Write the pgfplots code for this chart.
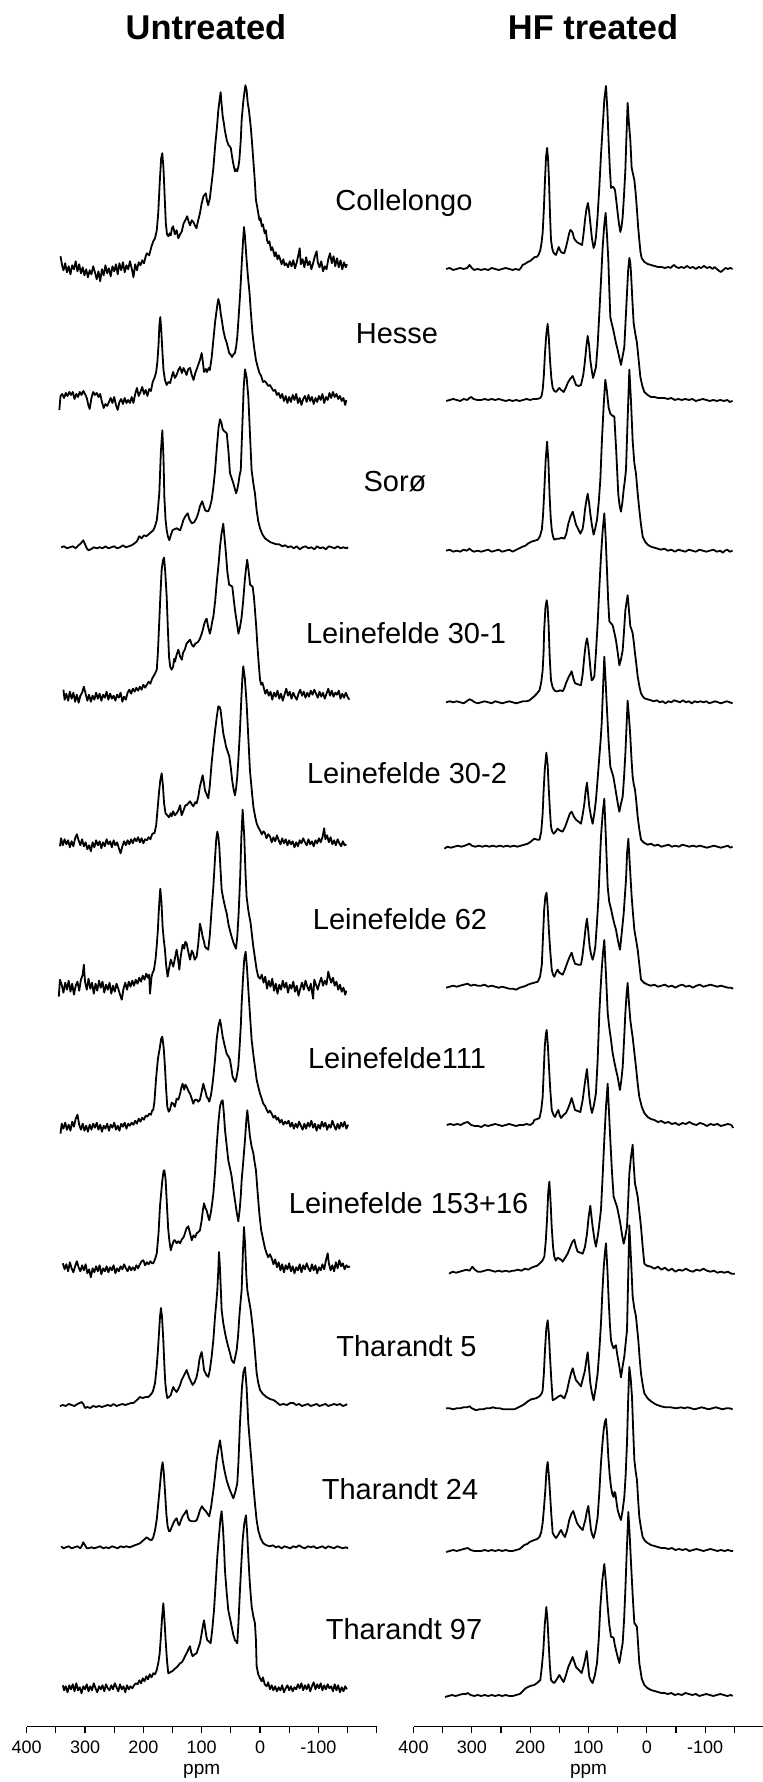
\documentclass[border=0pt]{standalone}
\usepackage{fontspec}
\setmainfont{Liberation Sans}
\usepackage{pgfplots}
\pgfplotsset{compat=1.18}
\pgfplotsset{
  spec/.style={black, line width=0.9pt, line join=round, no markers},
  off/.style={y filter/.expression={y+#1}},
  nmr/.style={
    scale only axis, width=175pt, height=863.35pt,
    xmin=-200, xmax=400, x dir=reverse,
    ymin=55.3, ymax=1782,
    axis x line*=bottom, hide y axis,
    xtick={400,300,200,100,0,-100},
    xticklabels={400,300,200,100,0,-100},
    minor xtick={350,250,150,50,-50,-150,-200},
    tick align=outside, major tick length=3pt, minor tick length=3pt,
    axis line style={line width=0.6pt, black},
    every tick/.style={line width=0.6pt, black},
    xticklabel style={font=\fontsize{9}{10}\selectfont, anchor=base, yshift=-10.5pt},
    xlabel={ppm},
    xlabel style={font=\fontsize{9.5}{10}\selectfont, at={(axis description cs:0.5,0)}, anchor=base, yshift=-24pt},
    clip=false, anchor=south west,
  },
}
\begin{document}
\begin{tikzpicture}
\useasboundingbox (0pt,0pt) rectangle (381pt,891pt);

% ---------------- Untreated ----------------
\begin{axis}[nmr, at={(13.35pt,27.65pt)}]
% Collelongo
\addplot[spec, off=1513.7] coordinates {(342,12) (339,2) (337,-2) (334,5) (331,-4) (328,2) (325,-6) (322,3) (319,-1) (316,7) (313,-3) (310,4) (307,-5) (304,1) (301,-7) (298,-1) (295,-9) (292,-2) (289,-6) (286,2) (283,-4) (280,-11) (277,-3) (274,-13) (271,-1) (268,-7) (265,3) (262,-5) (259,0) (256,-8) (253,2) (250,-3) (247,4) (244,-6) (241,5) (238,-2) (235,6) (232,-4) (229,3) (226,-1) (223,7) (220,0) (217,-9) (214,4) (211,-2) (208,6) (205,3) (202,8) (199,5) (196,12) (194,15) (190,13) (186,22) (183,27) (180,30) (177,38) (174.5,55) (172,85) (169.5,110) (167.5,115) (165.5,100) (163.5,72) (161.5,45) (159.5,34) (157,32) (155,35) (153,33) (151,40) (149,42) (146,34) (143,38) (140,30) (137,34) (134,37) (131,45) (128,48) (125,52) (122,46) (120,43) (117,48) (114,46) (111,42) (109,40) (106,48) (103,55) (100,65) (97,72) (93,75) (91,68) (89,63) (86,70) (83,85) (80,100) (77,122) (74,140) (71.5,158) (69,170) (67.5,176) (66,165) (64,152) (62,145) (60,137) (57,128) (54,123) (52,122) (50,120) (48,112) (46,105) (43,97) (41,99) (39,97) (37,102) (35.5,108) (33,128) (31.5,148) (29,165) (27,175) (25,183) (23,178) (21,165) (19,158) (16,142) (14,128) (11.5,108) (9,88) (7,68) (5,62) (3,55) (1,48) (-1,50) (-3,42) (-5,44) (-8,35) (-10,38) (-12,28) (-14,25) (-16,27) (-19,18) (-21,21) (-23,17) (-25,12) (-27,16) (-30,9) (-32,13) (-34,10) (-37,4) (-40,9) (-42,3) (-45,5) (-48,1) (-51,7) (-54,2) (-57,8) (-60,0) (-63,6) (-66,14) (-68,20) (-70,4) (-73,9) (-76,1) (-79,11) (-82,3) (-85,7) (-88,-1) (-91,5) (-94,12) (-97,17) (-99,6) (-102,1) (-105,7) (-108,-3) (-111,2) (-114,-1) (-117,9) (-120,15) (-123,5) (-126,12) (-129,2) (-132,10) (-135,1) (-138,8) (-141,-1) (-144,6) (-147,1) (-149,4)};
% Hesse
\addplot[spec, off=1382] coordinates {(344,-10) (342,4) (339,6) (336,2) (333,7) (330,4) (327,8) (324,5) (321,8) (318,1) (315,6) (312,3) (309,8) (306,5) (303,9) (300,6) (297,2) (294,-6) (292,-9) (289,2) (286,8) (283,5) (280,7) (277,3) (274,6) (271,-2) (268,-8) (265,-4) (262,-6) (259,-2) (256,2) (253,-3) (250,3) (247,-5) (244,-10) (241,-2) (238,1) (235,-4) (232,2) (229,-3) (226,0) (223,-3) (220,3) (217,-3) (214,6) (211,12) (208,4) (205,8) (202,13) (199,6) (196,10) (193,4) (190,11) (187,9) (184,18) (181,22) (178,28) (176,38) (174,55) (172.5,75) (171,83) (169.5,72) (167.5,50) (165.5,30) (163,20) (160,15) (157,18) (154,17) (151,24) (149,28) (146,22) (143,25) (140,30) (137,33) (134,27) (131,32) (128,28) (126,25) (123,31) (120,32) (117,25) (114,20) (111,27) (109,30) (106,35) (103,40) (100,47) (98,38) (96,28) (93,31) (91,28) (88,32) (86,30) (83,42) (80,60) (77,78) (75,87) (73,96) (71.5,101) (69,95) (67.5,87) (65,78) (63,70) (60,62) (57,57) (55,52) (53,47) (50,45) (48,43) (45,46) (43,47) (41,53) (39,63) (37,80) (34,107) (31,140) (29,160) (27.5,173) (26,165) (24,148) (23,140) (21,125) (18,107) (16,90) (13,67) (10,52) (7,40) (4,33) (1,27) (-2,24) (-5,18) (-8,19) (-11,17) (-14,14) (-17,15) (-20,12) (-23,9) (-26,10) (-29,5) (-32,7) (-35,2) (-38,6) (-41,-1) (-44,4) (-47,-3) (-50,3) (-53,-2) (-56,5) (-59,0) (-62,6) (-65,-3) (-68,2) (-71,-5) (-74,1) (-77,4) (-80,-2) (-83,5) (-86,-1) (-89,3) (-92,-4) (-95,2) (-98,-2) (-101,4) (-104,0) (-107,6) (-110,-3) (-113,3) (-116,0) (-119,7) (-122,2) (-125,8) (-128,3) (-131,6) (-134,1) (-137,4) (-140,-1) (-143,2) (-146,-5) (-148,0)};
% Soro
\addplot[spec, off=1234.7] coordinates {(341,0) (336,1) (331,-1) (326,0) (321,1) (316,-1) (311,2) (307,4) (303,7) (300,3) (297,-1) (294,-3) (290,-2) (285,0) (280,-1) (275,0) (270,-1) (265,1) (260,-1) (255,0) (250,1) (245,-1) (240,0) (235,2) (230,0) (225,1) (220,2) (215,4) (211,6) (207,11) (203,9) (199,12) (195,11) (191,13) (187,15) (183,17) (180,21) (177,27) (175,38) (172.6,55) (170,95) (167.5,117) (165.5,90) (164,50) (162,28) (160,17) (158,11) (155.5,7) (153,12) (150,17) (147,18) (143,19) (140,18) (137,17) (134,22) (131.5,27) (128,31) (124,34) (121,28) (117,24) (113,25) (109,29) (106,34) (103,41) (99,46) (97,42) (94,37) (91,36) (88.7,36) (86,40) (83,47) (80,60) (77,77) (74,100) (71,120) (68.6,128) (66,124) (64,118) (61,116) (57,114) (54,95) (51.5,74) (48,68) (45.8,64) (43,58) (41,54) (39,58) (37,64) (35,72) (33,77) (31,110) (28,160) (25.8,178) (23,170) (20,150) (17,110) (14.4,77) (11,62) (8.7,54) (5.8,37) (3,26) (0,19) (-4,13) (-8.5,9) (-13,7) (-18,5) (-23,4) (-28,3) (-33,3) (-38,1) (-43,2) (-48,0) (-53,1) (-58,-1) (-63,1) (-68,-2) (-73,0) (-78,1) (-83,-1) (-88,0) (-93,-2) (-98,1) (-103,-1) (-108,0) (-113,-2) (-118,1) (-123,0) (-128,-1) (-133,1) (-138,-1) (-143,0) (-148,-1) (-151,0)};
% Leinefelde 30-1
\addplot[spec, off=1085.3] coordinates {(337,7) (335,-3) (332,3) (329,-4) (326,5) (323,-2) (320,4) (317,-5) (314,2) (311,-6) (308,1) (305,4) (302,10) (299,3) (296,-4) (293,2) (290,-5) (287,1) (284,-3) (281,4) (278,-2) (275,3) (272,-4) (269,2) (266,-1) (263,5) (260,-3) (257,3) (254,-2) (251,1) (248,-4) (245,2) (242,-1) (239,4) (236,-5) (233,0) (230,-3) (227,4) (224,7) (221,3) (218,8) (215,5) (212,9) (209,6) (206,10) (203,7) (200,12) (197,9) (194,12) (191,15) (188,13) (185,18) (183,20) (180,23) (177,27) (175,45) (172.6,77) (170.5,105) (168.6,127) (166.5,136) (164.5,139) (162.5,125) (160,100) (158,68) (156,40) (154,30) (151.5,27) (149,30) (147,38) (145.8,35) (143,42) (140,47) (137,40) (134,37) (132,44) (129,47) (126,53) (123,55) (120,57) (117,52) (114,50) (111,53) (108,54) (106,55) (103,58) (100,63) (98,67) (96,72) (93,77) (91.5,78) (89,70) (86,63) (84,68) (82,75) (80,80) (77,95) (74.4,113) (71,133) (68.6,150) (66,163) (63,173) (61,160) (58.4,143) (56,125) (53,112) (50,111) (47.5,110) (45,97) (43,87) (40,75) (37,63) (35,68) (33,74) (31.5,80) (29,95) (26,117) (24,128) (22,137) (20,128) (17,112) (15,111) (12.7,110) (10.5,100) (8.7,87) (6.5,70) (4.7,53) (2.5,35) (0,17) (-2,12) (-4,14) (-6,10) (-9,3) (-12,7) (-15,1) (-18,5) (-21,-3) (-24,4) (-27,0) (-30,6) (-33,-2) (-36,3) (-39,-4) (-42,2) (-45,8) (-48,1) (-51,5) (-54,-2) (-57,4) (-60,0) (-63,-3) (-66,3) (-69,7) (-72,1) (-75,5) (-78,-1) (-81,4) (-84,0) (-87,6) (-90,2) (-93,7) (-96,3) (-99,-1) (-102,5) (-105,0) (-108,4) (-111,-2) (-114,3) (-117,8) (-120,1) (-123,6) (-126,0) (-129,4) (-132,2) (-135,6) (-138,-2) (-141,3) (-144,-1) (-147,4) (-150,0) (-153,-3)};
% Leinefelde 30-2
\addplot[spec, off=938.7] coordinates {(343,-3) (341,5) (338,-2) (335,4) (332,-1) (329,3) (326,-4) (323,2) (320,-3) (317,5) (314,9) (311,3) (308,-2) (305,4) (302,-3) (299,1) (296,-6) (293,-2) (290,-8) (287,1) (284,-4) (281,3) (278,-2) (275,2) (272,-5) (269,1) (266,-3) (263,4) (260,-1) (257,2) (254,-4) (251,3) (248,-2) (245,1) (242,-5) (239,-10) (236,-3) (233,2) (230,-2) (227,3) (224,-1) (221,4) (218,0) (215,5) (212,2) (209,6) (206,1) (203,5) (200,0) (197,4) (194,3) (191,6) (188,4) (185,9) (183,10) (181,10) (178,18) (175.5,35) (173,52) (171,63) (168.6,70) (166.5,58) (164.5,40) (162,30) (159,28) (156,26) (153,30) (151.5,27) (149,32) (146,28) (143,30) (140,33) (137,38) (134.4,28) (131,33) (128,38) (125.8,38) (123,40) (120,42) (117,39) (114.4,37) (111,41) (108.7,40) (106,46) (103,57) (100,64) (98.4,68) (96,60) (94.4,53) (91,48) (88.7,45) (86,58) (83,80) (80,97) (77,113) (74,127) (71.5,137) (69,136) (67.5,133) (65,120) (63,110) (60,102) (58.4,97) (55,91) (52.7,87) (50,75) (47.5,62) (45,53) (43,48) (41,55) (39,67) (37,85) (34.4,113) (32,145) (30,168) (28.7,177) (26,165) (23,140) (20,105) (17.3,73) (14,52) (11.5,37) (8.5,27) (5.8,20) (3,16) (0,13) (-3,9) (-6,12) (-8.5,10) (-11,5) (-14,9) (-17,7) (-20,1) (-23,6) (-26,2) (-29,8) (-32,3) (-35,-1) (-38,5) (-41,0) (-44,4) (-47,-2) (-50,3) (-53,-1) (-56,2) (-59,-4) (-62,1) (-65,-3) (-68,3) (-71,0) (-74,5) (-77,1) (-80,-2) (-83,4) (-86,-1) (-89,2) (-92,-3) (-95,3) (-98,0) (-101,5) (-104,1) (-107,6) (-110,15) (-112,4) (-115,8) (-118,1) (-121,6) (-124,-1) (-127,3) (-130,-2) (-133,4) (-136,0) (-139,-3) (-142,2) (-145,-2) (-148,-1)};
% Leinefelde 62
\addplot[spec, off=795.3] coordinates {(345,-10) (343,7) (340,2) (337,-6) (334,4) (331,-3) (328,6) (325,-5) (322,3) (319,-8) (316,1) (313,5) (310,-4) (307,7) (304,12) (302,22) (300,5) (297,-3) (294,8) (291,-2) (288,4) (285,-7) (282,3) (279,-4) (276,6) (273,-1) (270,5) (267,-6) (264,2) (261,-3) (258,4) (255,-7) (252,1) (249,-5) (246,3) (243,-2) (240,-8) (237,-13) (234,-2) (231,4) (228,-3) (225,5) (222,0) (219,6) (216,1) (213,7) (210,3) (207,9) (204,5) (201,11) (198,7) (195,13) (192,9) (190,12) (188.6,-7) (186,10) (184,14) (181.8,17) (179,28) (177.2,40) (175,58) (173.8,73) (172,90) (171,98) (169,85) (167,60) (165,47) (163,37) (161,22) (158.4,10) (156,18) (153,27) (151,24) (148.7,20) (146,28) (143,37) (141,30) (138.4,17) (136,30) (132.7,42) (130,38) (128,45) (125.8,43) (123,35) (120,27) (117,36) (114.4,33) (112,27) (108.7,30) (106,42) (103,63) (100.5,57) (98.4,50) (96,45) (94.4,40) (91,38) (88.7,37) (86,52) (83,77) (80,100) (77,130) (75,148) (73.2,155) (71.5,150) (69.8,140) (68,120) (65.8,97) (63,88) (60,80) (57,73) (54,62) (51,55) (48.7,50) (45,43) (41.2,38) (39,50) (36.7,73) (34,110) (32,150) (29.8,177) (27,150) (25,115) (23,90) (20,76) (16,63) (13.5,50) (11.5,40) (8.5,28) (5.8,17) (3,10) (0,8) (-3,12) (-6,4) (-9,10) (-12,-2) (-15,6) (-18,0) (-21,8) (-24,-4) (-27,3) (-30,-7) (-33,2) (-36,-3) (-39,6) (-42,-1) (-45,4) (-48,-6) (-51,2) (-54,-2) (-57,5) (-60,-5) (-63,1) (-66,-9) (-69,-2) (-72,4) (-75,-3) (-78,6) (-81,0) (-84,-4) (-87,3) (-91,-12) (-93,7) (-96,2) (-99,-3) (-102,4) (-105,9) (-108,1) (-111,6) (-114,2) (-117,15) (-120,8) (-122,4) (-125,9) (-128,1) (-131,5) (-134,-3) (-137,2) (-140,-5) (-143,-1) (-146,-8) (-148,-4)};
% Leinefelde111
\addplot[spec, off=655.3] coordinates {(342,-7) (340,3) (337,-2) (334,4) (331,-3) (328,2) (325,-4) (322,5) (319,0) (316,8) (313,12) (310,2) (307,-3) (304,3) (301,-4) (298,1) (295,-5) (292,2) (289,-3) (286,3) (283,-1) (280,4) (277,-3) (274,2) (271,-5) (268,1) (265,-2) (262,3) (259,-4) (256,2) (253,-1) (250,4) (247,-3) (244,1) (241,-4) (238,3) (235,0) (232,4) (229,-2) (226,3) (223,1) (220,4) (217,2) (214,6) (211,3) (208,8) (205,5) (202,9) (199,7) (196,11) (193,10) (190,13) (187,12) (185,16) (183,17) (181,25) (178.4,47) (175,68) (171.5,80) (169.5,88) (167.5,90) (165,78) (163,60) (161,38) (159,20) (156.5,15) (154.4,17) (151.5,24) (148.7,23) (146,20) (143,28) (140,27) (137,33) (134.5,40) (132.7,43) (130,37) (128,42) (125.8,40) (123,36) (120,33) (117,28) (114.4,23) (111.5,27) (108.7,27) (106,25) (103,27) (100,35) (97.2,43) (95,38) (93,34) (91.5,30) (89,28) (87,25) (84,32) (82,40) (80,50) (77,68) (74.4,87) (71.5,100) (68.6,107) (66.5,100) (64,90) (61,82) (57.2,73) (54,70) (51.5,67) (49,58) (47,50) (44.5,47) (42.4,45) (40,50) (37.2,60) (35,80) (33,100) (31.5,123) (29,150) (27,168) (24.7,175) (22.5,160) (20,137) (17,110) (14.4,87) (11,70) (8,57) (5.8,47) (3,40) (0,33) (-3,28) (-5.6,23) (-8.5,21) (-11.3,17) (-14,14) (-17,16) (-20,13) (-23,9) (-26,11) (-28.5,7) (-31,9) (-34,4) (-37,7) (-40,2) (-43,5) (-46,3) (-49,6) (-52,0) (-55,4) (-58,-2) (-61,3) (-64,-1) (-67,5) (-70,1) (-73,-3) (-76,3) (-79,-2) (-82,4) (-85,0) (-88,6) (-91,-1) (-94,3) (-97,-4) (-100,2) (-103,-2) (-106,5) (-109,0) (-112,4) (-115,-3) (-118,2) (-121,-1) (-124,6) (-127,1) (-130,-3) (-133,3) (-136,-2) (-139,4) (-142,0) (-145,5) (-148,-2) (-151,2)};
% Leinefelde 153+16
\addplot[spec, off=513.7] coordinates {(338,5) (335,-1) (332,4) (329,-3) (326,6) (323,0) (320,-4) (317,2) (314,7) (311,1) (308,-3) (305,3) (302,-2) (299,4) (296,-5) (293,-1) (290,-9) (287,0) (284,-4) (281,2) (278,-3) (275,3) (272,-6) (269,0) (266,-3) (263,2) (260,-4) (257,1) (254,-2) (251,3) (248,-5) (245,0) (242,-3) (239,2) (236,-1) (233,4) (230,0) (227,-3) (224,2) (221,-2) (218,1) (215,-2) (212,3) (209,0) (206,4) (203,7) (200,8) (197,3) (194,6) (191,4) (188,7) (185,5) (183,5) (180,9) (177,15) (174,35) (171.5,62) (168,85) (165.5,97) (164,98) (162,90) (160,68) (157.5,40) (155.5,28) (153,18) (150,24) (147.5,28) (145.8,28) (143,25) (140,27) (137,25) (134,29) (131,31) (128.7,35) (126,40) (123,42) (120,35) (117,28) (114,33) (111,31) (108.7,35) (106,36) (103,38) (100,48) (98,58) (96,65) (93.5,60) (91.5,58) (89,52) (87,48) (84,57) (82,65) (80,75) (77,97) (74.4,122) (71.5,145) (68.6,162) (66,167) (64,168) (62,155) (60,138) (57,122) (54.4,108) (51.5,100) (48.7,92) (46,80) (43,68) (40,56) (37.2,47) (35,58) (33,72) (31.5,88) (29,105) (25.8,128) (23.5,148) (21.8,158) (19.5,145) (17.3,132) (14.5,122) (11.5,115) (9,105) (7,98) (4,75) (1.2,55) (-2,38) (-5.6,28) (-8.5,20) (-11.3,15) (-14,11) (-17,14) (-20,10) (-23,4) (-26,9) (-29,1) (-32,6) (-35,-2) (-38,4) (-41,-4) (-44,3) (-47,-1) (-50,5) (-53,-3) (-56,2) (-59,-5) (-62,1) (-65,-2) (-68,4) (-71,-4) (-74,3) (-77,-1) (-80,5) (-83,0) (-86,-3) (-89,4) (-92,-2) (-95,3) (-98,-5) (-101,1) (-104,-2) (-107,4) (-110,-1) (-113,8) (-116,15) (-118,5) (-121,-2) (-124,3) (-127,-3) (-130,6) (-133,0) (-136,8) (-139,2) (-142,5) (-145,-1) (-148,3) (-151,1) (-154,2)};
% Tharandt 5
\addplot[spec, off=377] coordinates {(343,-1) (338,0) (333,-1) (328,1) (323,0) (318,-1) (313,1) (309,2) (306,3) (303,1) (300,-3) (296,-2) (291,-3) (286,-1) (281,-2) (276,-1) (271,-2) (266,-1) (261,0) (256,-1) (251,1) (246,-1) (241,0) (236,1) (231,0) (226,1) (221,2) (217,2) (213,4) (209,6) (206,8) (201,7) (196,8) (191.5,8) (188,10) (185,12) (183,15) (180,22) (177.2,38) (175,55) (173.2,72) (171.5,88) (169.8,97) (168,88) (165.8,65) (164,40) (162.4,22) (160.5,12) (159,7) (156,8) (153,10) (150.5,15) (148.7,18) (146,15) (143,13) (140,16) (137,20) (134.4,25) (130,30) (125.8,35) (123.5,31) (121.2,27) (118,23) (115.5,20) (112,23) (108.7,28) (106,36) (104,45) (102,50) (100,53) (98,45) (96,35) (92,30) (88.7,28) (86,35) (83,48) (80,65) (77.2,88) (75,102) (73.2,115) (71.5,135) (70.4,153) (69,140) (67.5,120) (65.8,95) (63,82) (60,72) (57,64) (54.4,58) (51.5,52) (48.7,45) (46.5,43) (44.7,42) (42.5,48) (40,55) (37.5,70) (35.5,88) (33.5,102) (31.5,115) (29.5,150) (27.5,178) (25.5,160) (23.5,130) (21.8,115) (19,105) (16,95) (13,80) (10.4,65) (8,48) (5.8,32) (3,22) (0,15) (-5,11) (-11,8) (-17,6) (-23,5) (-28,3) (-34,0) (-40,1) (-46,0) (-52,2) (-57,2) (-62,0) (-67,1) (-72,-1) (-77,0) (-82,1) (-87,-1) (-92,0) (-97,1) (-102,-1) (-107,0) (-112,1) (-117,-1) (-122,0) (-127,1) (-132,0) (-137,1) (-142,-1) (-147,0) (-149,1)};
% Tharandt 24
\addplot[spec, off=234.7] coordinates {(341,1) (337,-1) (333,0) (328,1) (323,-1) (318,0) (313,1) (308,-1) (305,2) (303,5) (300,2) (297,-1) (294,-1) (289,0) (284,-1) (279,0) (274,1) (269,-1) (264,0) (259,-1) (254,1) (249,0) (244,-1) (239,1) (234,0) (229,1) (224,0) (219,1) (215,2) (210,3) (206,4) (202,6) (198,8) (194.4,10) (190,8) (186,7) (183,10) (180,17) (177,28) (174.4,44) (171.5,62) (169,78) (167,85) (165,75) (162.4,51) (160.5,33) (158.4,21) (156,16) (154.4,16) (151.5,20) (148.7,24) (146,27) (143,29) (140.5,24) (138.4,22) (135.5,27) (132.7,31) (129,34) (125.8,37) (123.5,30) (121.2,27) (117,26) (112,26) (108.7,27) (106,31) (103,37) (99.5,41) (96,38) (92.7,36) (89.5,33) (87,31) (84,40) (80,57) (77,72) (74.4,87) (71.5,98) (68.6,107) (66.5,98) (64,87) (61,77) (57.2,67) (54.5,62) (51.5,57) (48.7,53) (45.8,49) (42.5,55) (39,64) (37,85) (34.4,124) (31,160) (28.5,175) (25.8,180) (23,160) (20.1,124) (17,102) (14.4,84) (11.5,62) (8.7,44) (6,28) (3,17) (-1,9) (-5.6,4) (-11,2) (-17,1) (-22,2) (-27,0) (-32,1) (-37,-1) (-42,1) (-47,0) (-52,-1) (-57,1) (-62,0) (-67,2) (-72,0) (-77,-1) (-82,1) (-87,0) (-92,1) (-97,-1) (-102,0) (-107,1) (-112,-1) (-117,1) (-122,0) (-127,-1) (-132,1) (-137,0) (-142,-1) (-147,0) (-151,-1)};
% Tharandt 97
\addplot[spec, off=93.7] coordinates {(338,3) (336,-2) (333,2) (330,-4) (327,3) (324,-1) (321,4) (318,-3) (315,5) (312,-2) (309,1) (306,-5) (303,2) (300,-1) (297,4) (294,-3) (291,2) (288,-2) (285,5) (282,0) (279,-4) (276,2) (273,-1) (270,3) (267,-3) (264,4) (261,0) (258,-2) (255,3) (252,-1) (249,5) (246,1) (243,-3) (240,4) (237,-1) (234,2) (231,-4) (228,3) (225,-1) (222,2) (219,0) (216,3) (213,5) (210,4) (207,8) (204,5) (201,10) (198,7) (195,12) (192,9) (189,14) (186,11) (183,15) (180,14) (177.2,18) (174.5,25) (172,35) (170.4,48) (168,70) (165.8,85) (164,70) (161.8,48) (159.5,28) (157.3,15) (154,16) (151,17) (148.7,18) (145,20) (141,22) (137.2,25) (134,26) (131,29) (128.7,32) (125,36) (122,40) (120,42) (118,36) (115.5,32) (112,34) (108.7,35) (106,40) (103,45) (100,55) (98,62) (96,68) (94,60) (92,52) (90.4,48) (88,47) (84.7,45) (82,58) (78.9,78) (76,105) (73.2,132) (70,155) (67.8,170) (65.8,177) (63.5,160) (61.5,138) (60.1,118) (57.5,98) (54.4,78) (51.5,70) (48.7,62) (46,54) (43,48) (41,47) (39,45) (37,65) (34.4,98) (32,125) (29.8,148) (27,165) (24.1,173) (22,155) (20.1,132) (17.5,105) (14.4,82) (11.5,72) (8.7,65) (7,48) (5.8,22) (3,14) (0,10) (-2.8,7) (-5,11) (-8,4) (-11.3,2) (-14,6) (-17,-1) (-20,3) (-22.8,-2) (-26,2) (-29,-3) (-32,1) (-35,-2) (-38,3) (-41,-4) (-44,0) (-47,3) (-50,-2) (-53,2) (-56,-3) (-59,1) (-62,-1) (-65,4) (-68,0) (-71,5) (-74,-2) (-77,3) (-80,-1) (-83,4) (-86,-3) (-89,2) (-92,6) (-95,-1) (-98,4) (-101,0) (-104,5) (-107,-2) (-110,3) (-113,-1) (-116,4) (-119,0) (-122,2) (-125,-3) (-128,4) (-131,-2) (-134,3) (-137,-4) (-140,1) (-143,-3) (-146,2) (-149,-1)};
\end{axis}

% ---------------- HF treated ----------------
\begin{axis}[nmr, at={(206.75pt,27.65pt)}]
% Collelongo
\addplot[spec, off=1513] coordinates {(344,0) (338,1) (332,-1) (326,0) (320,1) (314,0) (308,1) (304,4) (300,1) (296,-1) (290,0) (284,-1) (278,0) (272,-1) (266,1) (260,0) (254,-1) (248,0) (242,1) (236,0) (230,-1) (225,0) (219,-1) (216,1) (213,4) (209,5) (204,7) (200,8) (196,10) (192,12) (189,12) (187,13) (185,15) (182.6,19) (180.5,26) (178.6,36) (176.5,60) (174.6,89) (172.8,112) (171,121) (169.3,110) (167.7,89) (166,55) (164.3,29) (162,20) (159.7,16) (157.5,15) (155.7,14) (153.5,18) (151,22) (149,19) (147,17) (144,16) (141.4,16) (138.5,22) (135.7,29) (133,36) (131,39) (129,38) (127,36) (125,31) (123,29) (120,27) (117.4,26) (114,25) (111,24) (108.5,35) (106,49) (103.5,60) (100.9,66) (99,58) (96.9,46) (94,30) (91.2,21) (89,25) (87.2,32) (84.5,52) (81.4,82) (78.5,115) (75.7,142) (72.8,170) (70,183) (67.7,160) (65.4,126) (63.4,100) (61.4,81) (59.4,82) (57.4,82) (54.6,79) (52.3,68) (50,56) (47.7,45) (45.4,37) (43.4,42) (41.4,52) (39,75) (36.8,99) (34.8,135) (32.9,166) (30.6,145) (28.3,129) (26,101) (23.7,95) (21.4,89) (19,75) (16.9,59) (14.9,42) (12.9,29) (10.9,17) (8.9,11) (4.3,7) (-1.4,5) (-7,4) (-13,3) (-19,2) (-25,2) (-31,1) (-37,2) (-41,1) (-44,3) (-47,4) (-50,2) (-55,1) (-59,2) (-64,1) (-69,3) (-74,1) (-79,2) (-84,0) (-89,2) (-93,1) (-98,3) (-103,1) (-108,2) (-113,0) (-116,2) (-120,0) (-124,-2) (-127,-3) (-131,-1) (-135,1) (-139,0) (-143,1) (-147,0)};
% Hesse
\addplot[spec, off=1382] coordinates {(344,-1) (338,0) (332,1) (326,0) (320,-1) (314,1) (308,0) (304,2) (301,3) (297,1) (291,0) (284,0) (278,1) (272,0) (266,1) (260,0) (254,1) (248,0) (242,-1) (236,0) (230,-1) (224,0) (218,-1) (212,0) (206,1) (200,0) (194,1) (188,1) (182.6,2) (180.5,4) (178.6,10) (176.5,25) (174.6,47) (172.3,66) (170,76) (168,62) (166,40) (163.7,22) (161.4,12) (158.5,9) (155.7,8) (153,10) (150,12) (147,10) (144.5,9) (142.6,8) (139,12) (135.7,17) (131.5,21) (127.2,24) (124.5,20) (121.4,15) (117,14) (112.9,15) (109,25) (107,34) (105.4,43) (103.4,55) (101.4,64) (99,55) (96.9,40) (94.5,30) (92.3,22) (89.7,27) (87.2,33) (84.3,55) (81.4,87) (78.5,120) (75.7,153) (73,175) (70.6,187) (68.3,165) (66,140) (64.3,110) (62.6,83) (60,76) (57.4,70) (55,63) (52.9,57) (50,50) (47,42) (44.3,35) (41.4,44) (38.6,53) (36.3,80) (34,107) (32,130) (30,142) (28.5,138) (27.1,127) (24.8,100) (22.6,77) (20,67) (16.9,57) (14,40) (11.1,23) (7.7,14) (4.3,8) (-1.4,5) (-7,3) (-13,3) (-19,2) (-25,2) (-30,2) (-36,1) (-42,2) (-48,0) (-54,1) (-60,0) (-66,1) (-72,0) (-78,1) (-84,-1) (-90,0) (-96,1) (-102,0) (-108,-1) (-114,0) (-120,-1) (-126,0) (-132,-1) (-138,0) (-142,-2) (-147,-1)};
% Soro
\addplot[spec, off=1231.3] coordinates {(344,0) (338,1) (332,-1) (326,0) (320,-1) (314,1) (309,0) (304,2) (300,0) (296,-1) (290,0) (284,-1) (278,0) (272,1) (266,-1) (260,0) (254,1) (248,-1) (242,0) (236,1) (230,-1) (227,0) (220,2) (213,4) (208,5) (204,7) (198,9) (192,10) (187,11) (183.5,14) (180,21) (178,35) (176,57) (173.5,90) (171,109) (168.8,90) (166.6,54) (164.8,33) (163,21) (160.8,14) (158.6,11) (154,12) (150,12) (146,13) (141.4,12) (138,17) (134.6,27) (131,34) (127,39) (124,32) (121.4,26) (118,22) (114,17) (110,22) (108,30) (106,41) (103.7,50) (101.4,57) (99,48) (96.9,37) (94,25) (91.2,16) (88.5,22) (85.4,31) (82.5,48) (79.7,71) (77,110) (74,145) (71.2,171) (68.5,160) (65.5,143) (62.6,137) (59,135) (55.7,134) (52.5,100) (49,57) (46.7,45) (44.3,39) (42,48) (39.7,61) (37.7,70) (35.7,81) (33,130) (30,181) (27.2,150) (24.3,110) (21.5,88) (18.6,77) (15.8,58) (12.9,41) (10,26) (7.1,14) (3,9) (-1.4,6) (-7,4) (-13,3) (-18.6,2) (-24,1) (-30,2) (-36,0) (-42,1) (-48,-1) (-54,1) (-60,0) (-66,-1) (-72,1) (-78,0) (-84,-1) (-90,1) (-96,0) (-102,-1) (-108,0) (-114,1) (-120,-1) (-126,0) (-130,-2) (-134,0) (-138,1) (-142,-1) (-147,0)};
% Leinefelde 30-1
\addplot[spec, off=1079.7] coordinates {(344,0) (338,1) (332,0) (326,1) (320,0) (314,-1) (309,1) (304,3) (300,2) (295,0) (290,-1) (284,0) (278,1) (272,0) (266,-1) (260,1) (254,0) (248,-1) (242,0) (236,1) (230,0) (224,-1) (218,0) (212,1) (206,1) (201,2) (197,4) (193,6) (188,9) (184,12) (181,20) (178.6,32) (177,50) (176,72) (173.8,95) (171.7,102) (170,95) (168.3,76) (166.5,45) (164.3,22) (161.5,15) (158.6,12) (155.8,11) (153,11) (148.5,12) (144.3,11) (141.5,14) (138.6,19) (135,24) (131.5,28) (128.9,31) (126,24) (123.1,19) (118,18) (112.9,17) (110,28) (107.1,46) (104.8,58) (102.6,64) (100.6,57) (98.6,46) (96.6,33) (94.6,22) (92.3,23) (90,26) (87.2,50) (84.3,79) (81.4,115) (78.6,146) (75.7,172) (72.9,189) (70.6,165) (68.3,132) (66.3,102) (64.3,81) (61.4,79) (58.6,77) (55.8,70) (52.9,62) (50,50) (47.1,37) (44.3,43) (41.4,52) (39,72) (36.8,92) (34.8,100) (32.9,107) (30.6,92) (28.3,76) (26.3,73) (24.3,69) (22.3,60) (20.3,49) (18,38) (15.7,26) (12.8,16) (10,9) (7,6) (4.3,4) (-1,3) (-7,2) (-12,1) (-17,2) (-22,0) (-27,1) (-32,-1) (-37,1) (-42,0) (-47,2) (-52,1) (-57,0) (-62,2) (-67,0) (-72,1) (-77,-1) (-82,1) (-87,0) (-92,1) (-97,0) (-102,1) (-107,-1) (-112,0) (-117,1) (-122,0) (-127,-1) (-132,0) (-137,1) (-142,0) (-147,-1)};
% Leinefelde 30-2
\addplot[spec, off=935.3] coordinates {(347,-2) (342,0) (336,-1) (330,0) (324,1) (318,0) (312,1) (308,2) (304,3) (300,1) (294,0) (288,1) (282,0) (276,1) (270,0) (264,1) (258,0) (252,1) (246,0) (240,1) (234,0) (228,1) (222,0) (216,1) (210,2) (204,3) (199,5) (193,8) (188,7) (184,7) (181,15) (178.6,33) (177,55) (175,77) (172.3,94) (170,82) (168.3,60) (166.3,38) (164.3,20) (162,15) (159.7,13) (156.5,15) (153,18) (148.5,16) (144.3,15) (140,20) (135.7,27) (132,33) (128.9,35) (125,30) (121.4,27) (117,25) (112.9,23) (110,32) (107.1,43) (104.8,56) (102.6,64) (100.6,52) (98.6,40) (95.7,30) (92.9,23) (90,33) (87.2,47) (84.3,68) (81.4,90) (79.4,105) (77.4,123) (75,160) (72.9,190) (70.6,165) (68.3,137) (65.5,105) (62.6,80) (60,75) (57.4,70) (54.5,60) (51.7,50) (49.4,42) (47.1,35) (44.3,43) (41.4,50) (39,70) (36.8,93) (34.8,120) (32.9,146) (30.6,130) (28.3,110) (26.3,88) (24.3,70) (22.3,62) (20.3,57) (18,45) (15.7,30) (12.8,17) (10,7) (5,4) (-1.4,2) (-7,3) (-13,1) (-19,2) (-25,0) (-31,1) (-37,2) (-43,0) (-49,1) (-55,0) (-61,2) (-67,1) (-73,0) (-79,1) (-85,0) (-91,1) (-97,0) (-103,-1) (-109,0) (-115,1) (-121,0) (-127,-1) (-133,0) (-139,1) (-143,-1) (-147,0)};
% Leinefelde 62
\addplot[spec, off=795.3] coordinates {(344,-1) (338,0) (332,1) (326,0) (320,1) (314,2) (307,3) (302,1) (296,2) (290,1) (284,1) (278,2) (272,0) (266,1) (260,0) (254,-1) (248,0) (242,-1) (236,-2) (230,-2) (224,-3) (218,-1) (212,0) (207,1) (204,2) (199,3) (193,4) (187,5) (183,10) (180,22) (178,50) (176,77) (174,90) (172,94) (170,80) (168,57) (165.5,35) (163,17) (160.8,12) (158.6,10) (155.8,14) (153,17) (150,14) (147,13) (144.3,12) (140.5,17) (137,23) (133,29) (128.9,34) (126,28) (123.1,23) (118,22) (112.9,22) (110,32) (107.1,47) (104.8,60) (102.6,68) (100.3,55) (98,40) (95.5,32) (92.9,27) (90.6,32) (88.3,40) (85.7,62) (83.1,87) (80.8,120) (78.6,150) (75.5,175) (72.9,188) (70.3,150) (67.1,100) (64.5,85) (61.5,78) (58.6,70) (55.8,63) (52.9,57) (49.5,46) (46,37) (42.8,55) (39.7,73) (37.7,90) (35.7,107) (33.7,135) (31.7,148) (29,120) (26,90) (23.7,73) (21.4,57) (18.5,47) (15.7,37) (12.8,22) (10,7) (5,4) (-1.4,2) (-7,1) (-13,2) (-19,0) (-25,1) (-31,2) (-37,0) (-43,1) (-49,-1) (-55,1) (-61,2) (-67,0) (-73,1) (-79,-1) (-85,1) (-91,2) (-97,0) (-103,1) (-109,2) (-115,1) (-121,0) (-127,1) (-133,0) (-139,-1) (-144,-1) (-148,-2)};
% Leinefelde111
\addplot[spec, off=657] coordinates {(343,0) (337,1) (331,0) (325,1) (319,0) (313,2) (307,3) (301,0) (295,-1) (289,-1) (284,-2) (278,0) (272,-1) (266,0) (260,1) (254,0) (248,-1) (242,0) (236,1) (230,0) (224,-1) (218,0) (212,0) (206,1) (200,0) (195,2) (193,5) (188,6) (184,7) (181,15) (178.6,28) (177,50) (175,78) (173.3,90) (171.7,95) (169.7,80) (167.7,58) (165.5,35) (163,15) (160,10) (157.4,8) (154.5,12) (151.7,15) (149.5,10) (147.1,7) (143,10) (138.6,12) (134,18) (131,23) (128.9,27) (126,21) (123.1,15) (118.5,14) (114,13) (110,25) (107.1,38) (104.8,48) (102.6,56) (100.6,42) (98.6,28) (96.3,18) (94,12) (90.6,20) (87.2,32) (84.3,65) (81.4,112) (79.4,135) (77.4,155) (75.2,172) (72.9,185) (70,150) (67.1,112) (64.3,97) (61.4,85) (58.6,72) (55.7,63) (52.8,55) (50,48) (48,41) (46,35) (43.7,45) (41.4,58) (39,85) (36.8,112) (34.8,130) (32.9,142) (30.6,122) (28.3,105) (26.3,96) (24.3,88) (21.5,73) (18.6,58) (15.8,42) (12.9,28) (8.6,18) (4.3,12) (-1.4,8) (-7,6) (-12.9,5) (-19,3) (-25,4) (-31,2) (-37,3) (-43,1) (-49,2) (-55,0) (-61,2) (-67,1) (-73,3) (-79,1) (-85,0) (-91,2) (-97,1) (-103,-1) (-109,1) (-115,0) (-121,1) (-127,-1) (-133,0) (-139,1) (-145,0) (-148,-3)};
% Leinefelde 153+16
\addplot[spec, off=510.3] coordinates {(339,-2) (333,0) (327,-1) (321,0) (315,1) (309,2) (304,1) (299,5) (295,2) (290,0) (284,0) (278,1) (272,2) (266,1) (260,0) (254,1) (248,0) (242,1) (236,0) (230,1) (227,1) (221,2) (215,1) (209,3) (203,2) (198,4) (193,5) (188,6) (184,8) (179,11) (175.7,15) (173.3,30) (171.1,52) (169,80) (167.1,90) (165,70) (163.1,45) (160.8,25) (158.6,15) (156,11) (153,14) (150,13) (147,12) (144.3,10) (140,14) (135.7,18) (131,25) (127.5,30) (124.3,32) (121.5,25) (118.6,20) (114,19) (110,18) (106,25) (102.6,38) (99.7,55) (96.9,66) (94.9,55) (92.9,45) (90,33) (87.2,25) (83,40) (78.6,62) (75.8,95) (72.9,132) (70,165) (67.1,188) (64.9,160) (62.6,132) (59.8,100) (56.9,75) (54,70) (51.1,65) (48.3,57) (45.4,48) (42.5,37) (39.7,28) (37,35) (34,45) (32,70) (30,98) (27.1,115) (24.3,127) (22.3,105) (20.3,88) (18,82) (15.7,75) (12.8,60) (10,45) (7.1,25) (4.3,8) (0,6) (-7,5) (-13,3) (-19,5) (-25,2) (-31,4) (-37,1) (-43,3) (-49,0) (-55,2) (-61,1) (-67,3) (-73,1) (-79,0) (-85,2) (-91,1) (-97,3) (-103,1) (-109,0) (-115,1) (-121,-1) (-127,0) (-133,-1) (-139,0) (-145,-2) (-151,-2)};
% Tharandt 5
\addplot[spec, off=373.7] coordinates {(344,0) (338,0) (332,-1) (326,0) (320,0) (314,1) (308,1) (304,2) (300,0) (296,-1) (293,-2) (287,-1) (281,-1) (275,0) (269,0) (264,1) (258,0) (252,0) (246,-1) (240,-1) (233,-1) (227,-1) (220,1) (213,3) (208,5) (204,7) (198,9) (190,10) (184,12) (180,15) (178.6,18) (176.5,35) (174.6,58) (172.3,80) (170,88) (168,75) (166,52) (163.7,28) (161.4,8) (158.5,9) (155.7,10) (151,12) (147,13) (144,11) (141.4,10) (137,17) (133,28) (130,35) (127,40) (124,33) (121.4,28) (117,25) (112.9,22) (109.5,30) (106,38) (103.7,48) (101.4,56) (99,40) (96.9,25) (94,15) (91.2,8) (87.7,20) (84.3,35) (81.4,58) (78.6,85) (76.3,115) (74,140) (72,155) (70,165) (67.7,140) (65.4,108) (63.4,85) (61.4,68) (59.2,63) (57,60) (55,62) (53,63) (51,55) (49,48) (46.6,40) (44.3,31) (41.5,42) (38.6,52) (36.3,65) (34,78) (32,130) (30,183) (27.2,150) (24.3,112) (21.5,100) (18.6,92) (16.6,80) (14.6,68) (12.3,50) (10,35) (7.2,24) (4.3,15) (-1.4,10) (-7,7) (-15,4) (-24,2) (-32,1) (-41,1) (-50,0) (-59,1) (-64,0) (-70,1) (-76,0) (-82,-1) (-88,0) (-94,1) (-100,0) (-106,-1) (-112,0) (-118,1) (-124,0) (-130,-1) (-136,0) (-142,0) (-147,-1)};
% Tharandt 24
\addplot[spec, off=232] coordinates {(344,-2) (338,-1) (332,0) (326,-1) (320,0) (314,1) (307,2) (302,0) (296,-1) (290,-1) (284,-1) (278,0) (272,-1) (266,0) (260,-1) (254,0) (248,-1) (242,0) (236,-1) (230,-1) (224,0) (218,1) (214,3) (210,5) (205,6) (201,8) (197,9) (193,10) (188,11) (184,13) (181,18) (178.6,27) (176.3,42) (174,60) (172,80) (170,88) (168,75) (166,57) (163.7,35) (161.4,17) (158.5,14) (155.7,12) (152,15) (149.5,18) (147,20) (144,16) (140.3,13) (136.5,20) (133,30) (129.5,36) (126,39) (123,33) (119.7,27) (115,23) (110,20) (107.8,25) (105.4,30) (103,38) (100.3,44) (98,32) (95.7,20) (93.5,15) (91.2,12) (87.8,20) (84.3,33) (81.4,58) (78.6,87) (76.3,105) (74,120) (72,128) (70,131) (68,115) (66,93) (63.7,75) (61.4,63) (59.2,56) (57,53) (55.5,58) (54,57) (52,48) (50,40) (47,34) (44.3,30) (41.4,40) (38.6,53) (36.3,75) (34,107) (32,150) (30,183) (27.7,172) (25.4,153) (23.4,120) (21.4,90) (19,78) (16.9,70) (14.9,50) (12.9,33) (10,22) (7.1,13) (3,9) (-1.4,7) (-7,5) (-13,4) (-18.6,3) (-25,2) (-31,2) (-37,1) (-43,2) (-49,0) (-55,1) (-61,0) (-67,1) (-73,-1) (-79,0) (-85,1) (-91,0) (-97,-1) (-103,0) (-109,1) (-115,0) (-121,-1) (-127,0) (-133,-1) (-139,0) (-145,-1) (-148,-1)};
% Tharandt 97
\addplot[spec, off=87] coordinates {(346,-2) (340,-1) (334,0) (328,-1) (322,0) (316,1) (310,1) (307,2) (302,0) (296,-1) (290,0) (284,-1) (278,0) (272,-1) (266,0) (260,-1) (254,0) (248,-1) (242,0) (236,-1) (230,-1) (224,0) (218,1) (215.7,2) (211,5) (207,7) (200,9) (193,10) (188,12) (182.6,15) (180,28) (177.4,45) (175,70) (172.3,88) (170.3,75) (168.3,52) (166.3,30) (164.3,15) (161.5,13) (158.6,12) (154,16) (150,20) (146,16) (142.6,13) (138.6,20) (134.6,28) (131,33) (127.2,38) (124.3,33) (121.4,28) (116.5,25) (111.7,22) (109.4,27) (107.1,32) (105,38) (103.1,44) (100.8,30) (98.6,18) (95.7,14) (92.9,12) (89,20) (85.4,32) (82.5,55) (79.7,88) (76.3,115) (72.9,131) (70,112) (67.1,88) (64.3,70) (61.4,58) (59.2,58) (56.9,57) (54.9,50) (52.9,45) (50,38) (47.1,32) (44.3,42) (41.4,52) (39,75) (36.8,105) (34.3,145) (31.7,183) (29.4,160) (27.1,132) (24.3,100) (21.4,72) (19,70) (16.9,68) (14.9,50) (12.9,32) (8.6,16) (4.3,10) (-1,7) (-7,5) (-13,4) (-19,3) (-25,2) (-30,2) (-36,1) (-42,2) (-48,0) (-54,1) (-60,0) (-66,2) (-72,1) (-78,0) (-84,1) (-90,-1) (-96,0) (-102,1) (-108,0) (-114,-1) (-120,0) (-126,1) (-132,0) (-138,-1) (-144,0) (-147,-1)};
\end{axis}

% titles
\node[font=\fontsize{17.2}{20}\selectfont\bfseries, anchor=base] at (103pt,871pt) {Untreated};
\node[font=\fontsize{17.2}{20}\selectfont\bfseries, anchor=base] at (296.5pt,871pt) {HF treated};

% sample names
\begin{scope}[every node/.style={font=\fontsize{14.5}{17}\selectfont, anchor=base}]
\node at (202pt,785.65pt) {Collelongo};
\node at (198.5pt,719.35pt) {Hesse};
\node at (197.5pt,645.15pt) {Sorø};
\node at (203pt,569.35pt) {Leinefelde 30-1};
\node at (203.5pt,499.35pt) {Leinefelde 30-2};
\node at (200pt,426pt) {Leinefelde 62};
\node at (198.5pt,356.85pt) {Leinefelde111};
\node at (204.35pt,284.35pt) {Leinefelde 153+16};
\node at (203.25pt,212.65pt) {Tharandt 5};
\node at (200pt,141pt) {Tharandt 24};
\node at (202pt,71pt) {Tharandt 97};
\end{scope}
\end{tikzpicture}
\end{document}
